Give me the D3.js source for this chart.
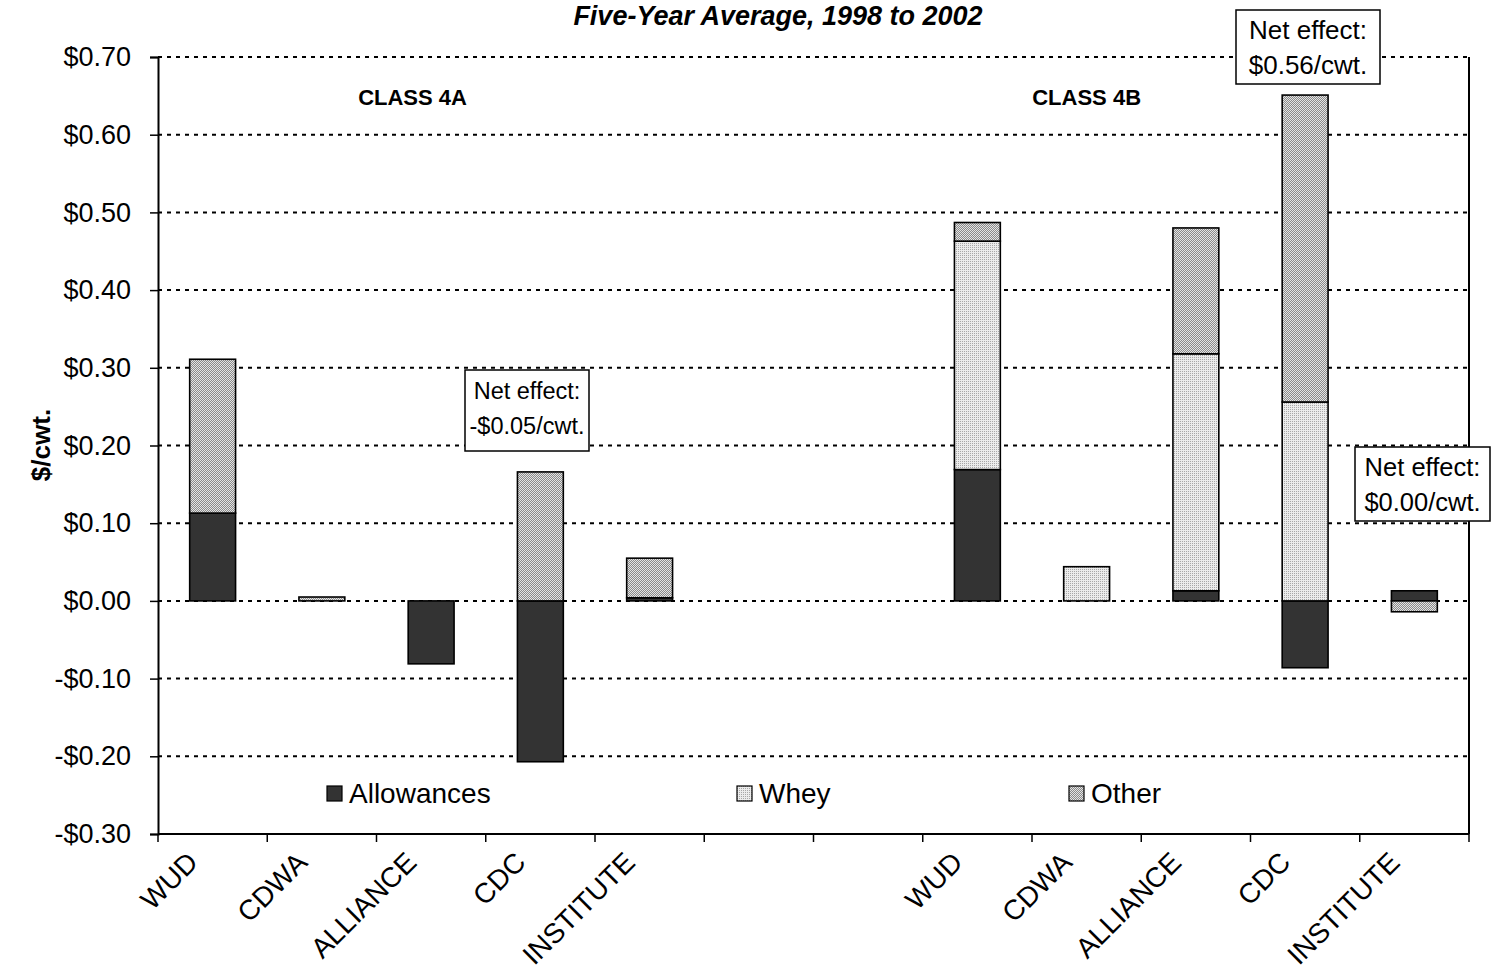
<!DOCTYPE html>
<html>
<head>
<meta charset="utf-8">
<script src="https://cdn.jsdelivr.net/npm/d3@7"></script>
<style>
  body { margin: 0; background: #fff; }
  text { font-family: "Liberation Sans", Arial, sans-serif; fill: #000; }
</style>
</head>
<body>
<svg id="chart" width="1505" height="977"></svg>
<script>
// categories, 2 empty slots separate class 4A from class 4B
const categories = ["WUD", "CDWA", "ALLIANCE", "CDC", "INSTITUTE", "", "", "WUD", "CDWA", "ALLIANCE", "CDC", "INSTITUTE"];
const allowances = [0.113, 0, -0.081, -0.207, 0.004, 0, 0, 0.169, 0, 0.013, -0.086, 0.013];
const whey       = [0, 0, 0, 0, 0, 0, 0, 0.294, 0.044, 0.305, 0.256, 0];
const other      = [0.198, 0.005, 0, 0.166, 0.051, 0, 0, 0.024, 0, 0.162, 0.395, -0.014];
const seriesNames = ["Allowances", "Whey", "Other"];
const yTicks = [-0.3, -0.2, -0.1, 0, 0.1, 0.2, 0.3, 0.4, 0.5, 0.6, 0.7];
const classLabels = ["CLASS 4A", "CLASS 4B"];
const noteLines = [["Net effect:", "-$0.05/cwt."], ["Net effect:", "$0.56/cwt."], ["Net effect:", "$0.00/cwt."]];

const margin = {top: 57, right: 36, bottom: 143, left: 158}
    , width = 1505 - margin.left - margin.right
    , height = 977 - margin.top - margin.bottom;

const svg = d3.select("#chart");
const defs = svg.append("defs");

// fine dotted fills like the old excel patterns
const pw = defs.append("pattern").attr("id", "whey").attr("patternUnits", "userSpaceOnUse")
    .attr("width", 2).attr("height", 2);
pw.append("rect").attr("width", 2).attr("height", 2).attr("fill", "#ececec");
pw.append("rect").attr("width", 1).attr("height", 1).attr("fill", "#a8a8a8");

const po = defs.append("pattern").attr("id", "other").attr("patternUnits", "userSpaceOnUse")
    .attr("width", 2).attr("height", 2);
po.append("rect").attr("width", 2).attr("height", 2).attr("fill", "#e4e4e4");
po.append("rect").attr("width", 1).attr("height", 1).attr("fill", "#8a8a8a");
po.append("rect").attr("x", 1).attr("y", 1).attr("width", 1).attr("height", 1).attr("fill", "#8a8a8a");

const fills = {Allowances: "#333333", Whey: "url(#whey)", Other: "url(#other)"};

const g = svg.append("g").attr("transform", "translate(" + margin.left + "," + margin.top + ")");

const xScale = d3.scaleBand()
    .domain(categories.map((d, i) => i))
    .range([0, width])
    .padding(0);

const yScale = d3.scaleLinear()
    .domain([-0.3, 0.7])
    .range([height, 0]);

// gridlines
g.selectAll(".grid")
    .data(yTicks.filter(d => d > -0.3))
    .enter().append("line")
    .attr("x1", 0).attr("x2", width)
    .attr("y1", d => yScale(d)).attr("y2", d => yScale(d))
    .attr("stroke", "#000").attr("stroke-width", 2)
    .attr("stroke-dasharray", "4,5");

// stacked bars
const table = categories.map((c, i) => ({i: i, Allowances: allowances[i], Whey: whey[i], Other: other[i]}));
const stacked = d3.stack()
    .keys(seriesNames)
    .offset(d3.stackOffsetDiverging)(table);

const barW = xScale.bandwidth() * 0.42;

stacked.forEach(s => {
  g.selectAll(".bar-" + s.key)
    .data(s.filter(d => d[1] - d[0] !== 0))
    .enter().append("rect")
    .attr("x", d => xScale(d.data.i) + (xScale.bandwidth() - barW) / 2)
    .attr("y", d => yScale(Math.max(d[0], d[1])))
    .attr("width", barW)
    .attr("height", d => Math.abs(yScale(d[0]) - yScale(d[1])))
    .attr("fill", fills[s.key])
    .attr("stroke", "#000")
    .attr("stroke-width", 1.6);
});

// axes
const yAxis = g.append("g")
    .call(d3.axisLeft(yScale).tickValues(yTicks).tickSize(8)
      .tickFormat(d => (d < 0 ? "-$" : "$") + Math.abs(d).toFixed(2)));
yAxis.select(".domain").attr("stroke-width", 2);
yAxis.selectAll(".tick line").attr("stroke-width", 1.5);
yAxis.selectAll("text").attr("font-size", 27).attr("x", -27)
    .style("font-family", "'Liberation Sans', Arial, sans-serif");

const bounds = d3.range(categories.length + 1).map(i => i * xScale.bandwidth());
const xAxis = g.append("g").attr("transform", "translate(0," + height + ")");
xAxis.append("line").attr("x1", 0).attr("x2", width).attr("stroke", "#000").attr("stroke-width", 2);
xAxis.selectAll(".xt")
    .data(bounds)
    .enter().append("line")
    .attr("x1", d => d).attr("x2", d => d)
    .attr("y1", 0).attr("y2", 8)
    .attr("stroke", "#000").attr("stroke-width", 1.5);

xAxis.selectAll(".xl")
    .data(categories)
    .enter().append("text")
    .attr("transform", (d, i) => "translate(" + (xScale(i) + xScale.bandwidth() / 2 - 13) + ",30) rotate(-45)")
    .attr("text-anchor", "end")
    .attr("font-size", 28)
    .text(d => d);

// right border
g.append("line").attr("x1", width).attr("x2", width).attr("y1", 0).attr("y2", height)
    .attr("stroke", "#000").attr("stroke-width", 2);

// y title
svg.append("text")
    .attr("transform", "translate(50,445) rotate(-90)")
    .attr("text-anchor", "middle")
    .attr("font-size", 26).attr("font-weight", "bold")
    .style("font-family", "'Liberation Sans Narrow', 'Arial Narrow', 'Liberation Sans', sans-serif")
    .text("$/cwt.");

// title
svg.append("text")
    .attr("x", 778).attr("y", 25)
    .attr("text-anchor", "middle")
    .attr("font-size", 27).attr("font-weight", "bold").attr("font-style", "italic")
    .text("Five-Year Average, 1998 to 2002");

// class labels
const classX = [xScale(2) + xScale.bandwidth() * 0.33, xScale(8) + xScale.bandwidth() * 0.5];
classLabels.forEach((c, k) => {
  g.append("text")
    .attr("x", classX[k])
    .attr("y", 48)
    .attr("text-anchor", "middle")
    .attr("font-size", 22).attr("font-weight", "bold")
    .text(c);
});

// legend
const legendX = [327, 737, 1069];
seriesNames.forEach((s, i) => {
  const lg = svg.append("g").attr("transform", "translate(" + legendX[i] + ",786)");
  lg.append("rect").attr("width", 15).attr("height", 15)
    .attr("fill", fills[s]).attr("stroke", "#000").attr("stroke-width", 1.2);
  lg.append("text").attr("x", 22).attr("y", 17).attr("font-size", 28).text(s);
});

// net effect notes
const noteBox = [
  {x: 465, y: 370, w: 124, h: 81, fs: 23.5},
  {x: 1236, y: 10, w: 144, h: 74, fs: 26},
  {x: 1355, y: 447, w: 135, h: 74, fs: 25.5}
];
noteLines.forEach((lines, k) => {
  const b = noteBox[k];
  const ng = svg.append("g").attr("transform", "translate(" + b.x + "," + b.y + ")");
  ng.append("rect").attr("width", b.w).attr("height", b.h)
    .attr("fill", "#fff").attr("stroke", "#000").attr("stroke-width", 1.5);
  lines.forEach((l, j) => {
    ng.append("text").attr("x", b.w / 2).attr("y", 29 + j * 35)
      .attr("text-anchor", "middle").attr("font-size", b.fs).text(l);
  });
});
</script>
</body>
</html>
